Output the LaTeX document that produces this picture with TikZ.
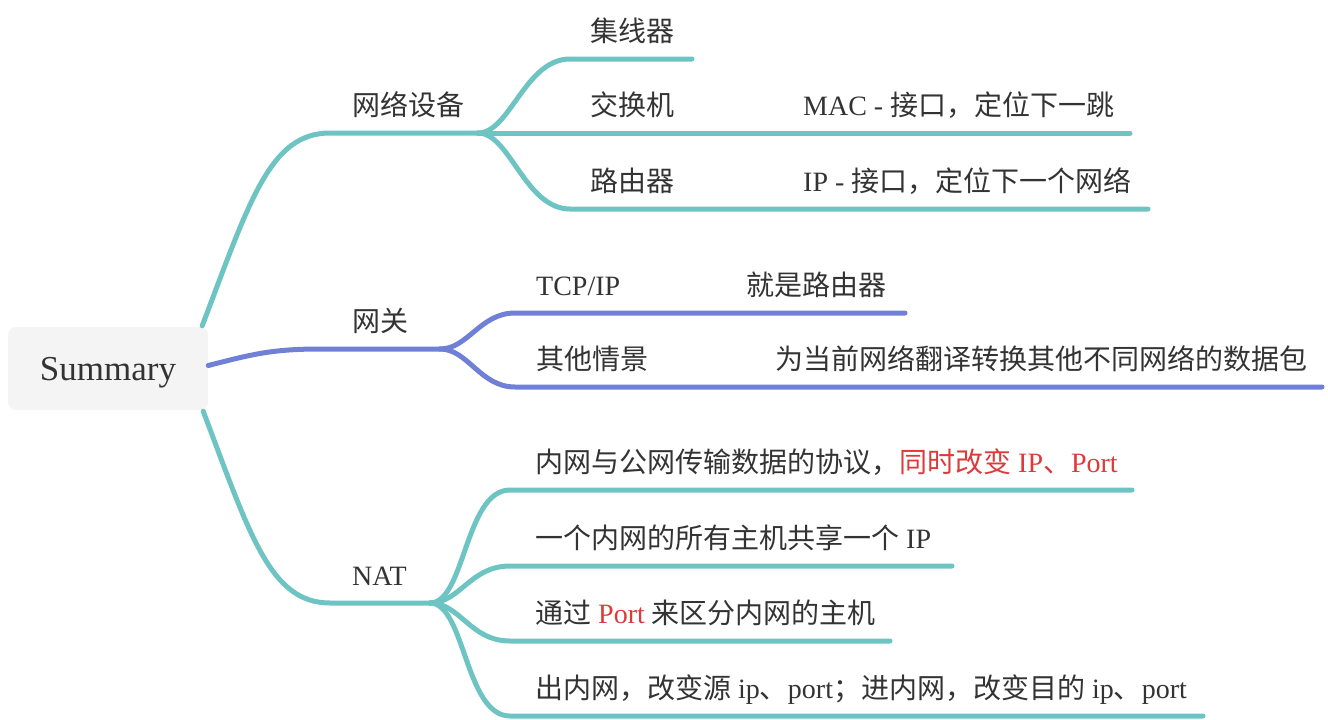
\documentclass[tikz,border=0pt]{standalone}
\usepackage{fontspec}
\setmainfont{Liberation Serif}
\newfontfamily\cjk{Noto Sans CJK SC}
\usetikzlibrary{calc}

\definecolor{branchteal}{HTML}{6EC4C3}
\definecolor{branchblue}{HTML}{6F80D6}
\definecolor{textgray}{HTML}{333333}
\definecolor{notered}{HTML}{DE3A3A}
\definecolor{rootfill}{HTML}{F4F4F4}

\newcommand{\zh}[1]{{\cjk #1}}

\tikzset{
  root/.style={fill=rootfill, rounded corners=8pt, minimum width=200pt, minimum height=83pt,
    text depth=0pt, text=textgray, font=\fontsize{35}{40}\selectfont},
  lbl/.style={anchor=base west, inner sep=0pt, text=textgray, font=\fontsize{28}{32}\selectfont},
  tealline/.style={draw=branchteal, line width=5pt, line cap=round, line join=round},
  blueline/.style={draw=branchblue, line width=5pt, line cap=round, line join=round},
}

\begin{document}
\begin{tikzpicture}[x=1pt,y=-1pt]
  \useasboundingbox (0,0) rectangle (1328,720);

  % fork points and line ends
  \coordinate (devfork) at (478,133);
  \coordinate (hubend) at (692,59);
  \coordinate (switchend) at (1130,133);
  \coordinate (routerend) at (1148,209);
  \coordinate (gwfork) at (440,349);
  \coordinate (tcpend) at (905,313);
  \coordinate (otherend) at (1322,387);
  \coordinate (natfork) at (430,603);
  \coordinate (protoend) at (1132,490);
  \coordinate (shareend) at (952,566);
  \coordinate (portend) at (890,641);
  \coordinate (dirend) at (1203,716);

  \node[root] (summary) at (108,368.5) {Summary};

  % 网络设备
  \draw[tealline] ($(summary.north east)+(-6,-1)$) .. controls (250,200) and (270,133) .. (330,133) -- (devfork);
  \draw[tealline] (devfork) .. controls (510,133) and (525,59) .. (570,59) -- (hubend);
  \draw[tealline] (devfork) -- (switchend);
  \draw[tealline] (devfork) .. controls (510,133) and (525,209) .. (570,209) -- (routerend);

  % 网关
  \draw[blueline] ($(summary.east)+(0,-3)$) .. controls (250,355) and (270,349) .. (320,349) -- (gwfork);
  \draw[blueline] (gwfork) .. controls (468,349) and (480,313) .. (515,313) -- (tcpend);
  \draw[blueline] (gwfork) .. controls (468,349) and (480,387) .. (515,387) -- (otherend);

  % NAT
  \draw[tealline] ($(summary.south east)+(-5,1)$) .. controls (250,535) and (270,603) .. (330,603) -- (natfork);
  \draw[tealline] (natfork) .. controls (465,603) and (465,490) .. (510,490) -- (protoend);
  \draw[tealline] (natfork) .. controls (460,603) and (470,566) .. (510,566) -- (shareend);
  \draw[tealline] (natfork) .. controls (460,603) and (470,641) .. (510,641) -- (portend);
  \draw[tealline] (natfork) .. controls (465,603) and (465,716) .. (510,716) -- (dirend);

  % labels
  \node[lbl] (dev) at (352,115) {\zh{网络设备}};
  \node[lbl] (hub) at (590,41) {\zh{集线器}};
  \node[lbl] (switch) at (590,115) {\zh{交换机}};
  \node[lbl] (router) at (590,191) {\zh{路由器}};
  \node[lbl] (mac) at (803,115) {MAC - \zh{接口，定位下一跳}};
  \node[lbl] (ipnet) at (803,191) {IP - \zh{接口，定位下一个网络}};

  \node[lbl] (gw) at (352,331) {\zh{网关}};
  \node[lbl] (tcp) at (536,295) {TCP/IP};
  \node[lbl] (same) at (746,295) {\zh{就是路由器}};
  \node[lbl] (other) at (536,369) {\zh{其他情景}};
  \node[lbl] (translate) at (775,369) {\zh{为当前网络翻译转换其他不同网络的数据包}};

  \node[lbl] (nat) at (352,585) {NAT};
  \node[lbl] (proto) at (535,472) {\zh{内网与公网传输数据的协议，}\textcolor{notered}{\zh{同时改变} IP\zh{、}Port}};
  \node[lbl] (share) at (535,548) {\zh{一个内网的所有主机共享一个} IP};
  \node[lbl] (port) at (535,623) {\zh{通过} \textcolor{notered}{Port} \zh{来区分内网的主机}};
  \node[lbl] (dir) at (535,698) {\zh{出内网，改变源} ip\zh{、}port\zh{；进内网，改变目的} ip\zh{、}port};
\end{tikzpicture}
\end{document}
